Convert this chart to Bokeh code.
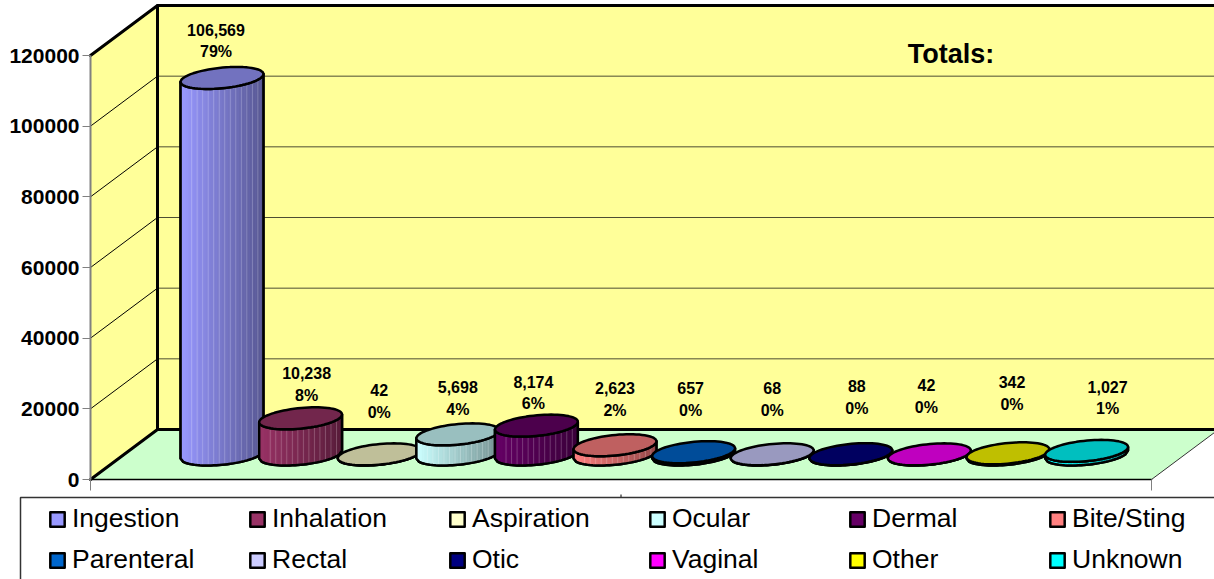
import math

from bokeh.core.properties import value
from bokeh.embed import file_html
from bokeh.models import (BasicTickFormatter, ColumnDataSource, FixedTicker, Legend, LegendItem,
                          LinearAxis, Range1d)
from bokeh.plotting import figure
from bokeh.resources import INLINE

# Poison exposure routes
routes = ["Ingestion", "Inhalation", "Aspiration", "Ocular", "Dermal", "Bite/Sting",
          "Parenteral", "Rectal", "Otic", "Vaginal", "Other", "Unknown"]
exposures = [106569, 10238, 42, 5698, 8174, 2623, 657, 68, 88, 42, 342, 1027]
count_labels = ["106,569", "10,238", "42", "5,698", "8,174", "2,623",
                "657", "68", "88", "42", "342", "1,027"]
share_labels = ["79%", "8%", "0%", "4%", "6%", "2%", "0%", "0%", "0%", "0%", "0%", "1%"]
colors = ["#9999FF", "#993366", "#FFFFCC", "#CCFFFF", "#660066", "#FF8080",
          "#0066CC", "#CCCCFF", "#000080", "#FF00FF", "#FFFF00", "#00FFFF"]
tick_values = [0, 20000, 40000, 60000, 80000, 100000, 120000]

# Screen offsets of each data label from the top of its column
label_dx = [-6, 6, 0, 0, -3, 0, -3, 0, 6, -3, 4, 21]
label_dy = [-48, -45, -64, -47, -44, -57, -64, -66, -68, -69, -71, -64]

WIDTH, HEIGHT = 1214, 579
PX_PER_CAT = 78.6          # horizontal pixels per category
PX_PER_VALUE = 424 / 120000
ZERO_PX_X = 221.5          # first column centre
ZERO_PX_Y = 479            # value 0 on the front edge of the floor

# Oblique depth of the 3D box, expressed in data units
DEPTH_X = 67 / PX_PER_CAT
DEPTH_Y = 50 / PX_PER_VALUE
RADIUS_X = 38.7 / PX_PER_CAT
RADIUS_D = 0.22
FLOOR_LEFT = (90 - ZERO_PX_X + 33.5) / PX_PER_CAT
FLOOR_RIGHT = (1151 - ZERO_PX_X + 33.5) / PX_PER_CAT
BACK_RIGHT = (WIDTH + 10 - ZERO_PX_X - 33.5) / PX_PER_CAT


def px_x(px):
    return (px - ZERO_PX_X) / PX_PER_CAT


def px_y(px):
    return (ZERO_PX_Y - px) / PX_PER_VALUE


def project(cat, val, depth):
    """Map (category, value, depth 0..1) on to the flat plot coordinates."""
    return cat + (depth - 0.5) * DEPTH_X, val + depth * DEPTH_Y


def shade(color, factor):
    r, g, b = (int(color[k:k + 2], 16) for k in (1, 3, 5))
    return "#%02x%02x%02x" % (int(r * factor), int(g * factor), int(b * factor))


p = figure(width=WIDTH, height=HEIGHT,
           x_range=Range1d(px_x(0), px_x(WIDTH)), y_range=Range1d(px_y(HEIGHT), px_y(0)),
           output_backend="svg", toolbar_location=None, x_axis_location=None, y_axis_location=None,
           min_border_left=0, min_border_right=0, min_border_top=0, min_border_bottom=0)
p.grid.visible = False
p.outline_line_color = None
p.background_fill_color = "white"


def box_face(points, fill):
    xs, ys = zip(*(project(*pt) for pt in points))
    p.patch(list(xs), list(ys), fill_color=fill, line_color=None)


def box_line(points, color="#000000", width=3.0):
    xs, ys = zip(*(project(*pt) for pt in points))
    p.line(list(xs), list(ys), line_color=color, line_width=width, line_cap="round", line_join="round")


TOP = 120000
box_face([(FLOOR_LEFT, 0, 1), (BACK_RIGHT, 0, 1), (BACK_RIGHT, TOP, 1), (FLOOR_LEFT, TOP, 1)], "#FFFF99")
box_face([(FLOOR_LEFT, 0, 0), (FLOOR_LEFT, 0, 1), (FLOOR_LEFT, TOP, 1), (FLOOR_LEFT, TOP, 0)], "#FFFF99")
box_face([(FLOOR_LEFT, 0, 0), (FLOOR_RIGHT, 0, 0), (FLOOR_RIGHT, 0, 1), (FLOOR_LEFT, 0, 1)], "#CCFFCC")

for tick in tick_values[1:-1]:
    box_line([(FLOOR_LEFT, tick, 0), (FLOOR_LEFT, tick, 1)], width=1)
    box_line([(FLOOR_LEFT, tick, 1), (BACK_RIGHT, tick, 1)], color="#4d4d33", width=1)

box_line([(FLOOR_LEFT, TOP, 0), (FLOOR_LEFT, TOP, 1), (BACK_RIGHT, TOP, 1)])
box_line([(FLOOR_LEFT, TOP, 1), (FLOOR_LEFT, 0, 1), (BACK_RIGHT, 0, 1)])
box_line([(FLOOR_LEFT, 0, 0), (FLOOR_LEFT, 0, 1)])
box_line([(FLOOR_LEFT, 0, 0), (FLOOR_RIGHT, 0, 0)], width=1.5)
box_line([(FLOOR_RIGHT, 0, 0), (FLOOR_RIGHT, 0, 1)], color="#333333", width=1)

# Category axis ticks below the floor
for cat in (FLOOR_LEFT, FLOOR_RIGHT):
    x0, _ = project(cat, 0, 0)
    p.segment(x0, 0, x0, -11 / PX_PER_VALUE, line_color="#808080", line_width=1)
mid_x, _ = project((FLOOR_LEFT + FLOOR_RIGHT) / 2, 0, 0)
p.segment(mid_x, -15 / PX_PER_VALUE, mid_x, -18 / PX_PER_VALUE, line_color="#000000", line_width=1)

# Legend panel, open towards the right and bottom edges of the page
p.patch([px_x(20), px_x(WIDTH + 10), px_x(WIDTH + 10), px_x(20)],
        [px_y(497), px_y(497), px_y(HEIGHT + 10), px_y(HEIGHT + 10)],
        fill_color="white", line_color="#333333", line_width=1.5)

legend_items = []
ARC_STEPS = 30
for i, (name, val, base) in enumerate(zip(routes, exposures, colors)):
    phase = math.atan2(RADIUS_D * DEPTH_X, RADIUS_X)

    def rim(t, level):
        return (i + RADIUS_X * math.cos(t) + RADIUS_D * DEPTH_X * math.sin(t),
                level + DEPTH_Y * 0.5 + RADIUS_D * DEPTH_Y * math.sin(t))

    # Front half of the rim, running left to right; steps are even in x
    front = []
    for k in range(ARC_STEPS + 1):
        u = k / ARC_STEPS
        t = phase + math.pi + math.acos(1 - 2 * u)
        front.append(t)

    base_rim = [rim(t, 0) for t in front]
    top_rim = [rim(t, val) for t in front]

    # Column silhouette
    xs = [pt[0] for pt in base_rim] + [pt[0] for pt in reversed(top_rim)]
    ys = [pt[1] for pt in base_rim] + [pt[1] for pt in reversed(top_rim)]
    body = p.patch(xs, ys, fill_color=base, line_color="#000000", line_width=2.5, line_join="round")
    legend_items.append(LegendItem(label=name, renderers=[body]))

    # Vertical shading bands, bright on the left and dark on the right
    strip_x, strip_y, strip_c = [], [], []
    for k in range(ARC_STEPS):
        a0, a1 = base_rim[k], base_rim[k + 1]
        b0, b1 = top_rim[k], top_rim[k + 1]
        strip_x.append([a0[0], a1[0], b1[0], b0[0]])
        strip_y.append([a0[1], a1[1], b1[1], b0[1]])
        strip_c.append(shade(base, 1.0 - 0.42 * k / (ARC_STEPS - 1)))
    p.patches(strip_x, strip_y, fill_color=strip_c, line_color=strip_c, line_width=0.5)

    # Fine pale seams between some of the bands
    if val > 1000:
        seam_x = [[base_rim[k][0], top_rim[k][0]] for k in range(4, ARC_STEPS, 2)]
        seam_y = [[base_rim[k][1], top_rim[k][1]] for k in range(4, ARC_STEPS, 2)]
        p.multi_line(seam_x, seam_y, line_color="#ffffff", line_alpha=0.22, line_width=1)

    p.patch(xs, ys, fill_color=None, line_color="#000000", line_width=2.5, line_join="round")

    # Top cap
    angles = [2 * math.pi * k / 72 for k in range(72)]
    cap = [rim(t, val) for t in angles]
    p.patch([pt[0] for pt in cap], [pt[1] for pt in cap], fill_color=shade(base, 0.75),
            line_color="#000000", line_width=2.5, line_join="round")

# Two-line data labels above each column
anchors = ColumnDataSource(dict(
    x=list(range(len(routes))),
    y=[v + DEPTH_Y * 0.5 for v in exposures],
    count=count_labels,
    share=share_labels,
    dx=label_dx,
    line1=label_dy,
    line2=[d + 22 for d in label_dy],
))
for column, offset in (("count", "line1"), ("share", "line2")):
    p.text("x", "y", text=column, source=anchors, x_offset="dx", y_offset=offset,
           text_font=value("Liberation Sans"), text_font_style="bold", text_font_size="16px",
           text_color="#000000", text_align="center", text_baseline="middle")

# Chart title on the back wall
p.text([px_x(950.5)], [px_y(53)], text=["Totals:"], text_font=value("Liberation Sans"), text_font_style="bold",
       text_font_size="27px", text_color="#000000", text_align="center", text_baseline="middle")

# Value axis fixed on the front left edge of the box
axis = LinearAxis(ticker=FixedTicker(ticks=tick_values), bounds=(0, 120000),
                  formatter=BasicTickFormatter(use_scientific=False),
                  fixed_location=px_x(90))
axis.axis_line_color = "#808080"
axis.axis_line_width = 2
axis.major_tick_line_color = "#808080"
axis.major_tick_line_width = 1
axis.major_tick_in = 0
axis.major_tick_out = 8
axis.minor_tick_line_color = None
axis.major_label_standoff = 3
axis.major_label_text_font = "Liberation Sans"
axis.major_label_text_font_style = "bold"
axis.major_label_text_font_size = "21px"
axis.major_label_text_color = "#000000"
p.add_layout(axis, "left")

legend = Legend(items=legend_items, orientation="horizontal", nrows=2, location=(48, 4),
                glyph_width=18, glyph_height=18, label_standoff=6, label_width=166,
                spacing=10, padding=0, margin=0,
                label_text_font="Liberation Sans", label_text_font_size="26.5px", label_text_color="#000000",
                border_line_color=None, background_fill_alpha=0)
p.add_layout(legend, "center")

open("out.html", "w").write(file_html(p, INLINE))
